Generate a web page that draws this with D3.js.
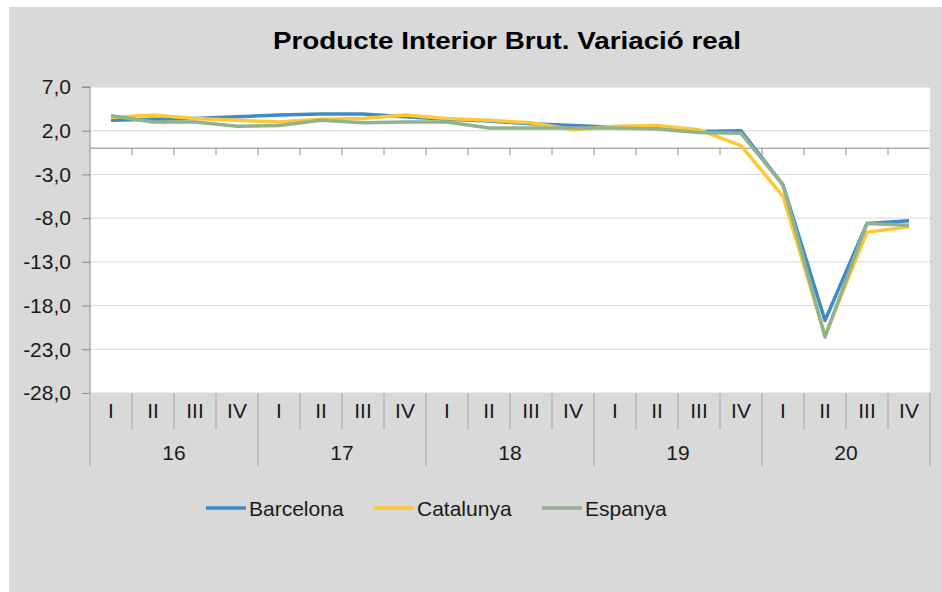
<!DOCTYPE html>
<html>
<head>
<meta charset="utf-8">
<script src="https://cdn.jsdelivr.net/npm/d3@7"></script>
<style>
  body { margin: 0; background: #fff; }
  svg text { font-family: "Liberation Sans", Arial, sans-serif; fill: #1a1a1a; }
</style>
</head>
<body>
<div class="canvas-container"></div>
<script>
const years = ["16", "17", "18", "19", "20"]
const quarters = ["I", "II", "III", "IV"]
const yTicks = [7, 2, -3, -8, -13, -18, -23, -28]

const barcelona = [3.2, 3.3, 3.4, 3.6, 3.8, 3.9, 3.9, 3.6, 3.3, 3.1, 2.8, 2.6, 2.4, 2.3, 1.9, 2.0, -4.2, -19.7, -8.6, -8.3]
const catalunya = [3.5, 3.8, 3.4, 3.2, 3.0, 3.3, 3.4, 3.8, 3.4, 3.2, 2.9, 2.1, 2.5, 2.6, 2.1, 0.3, -5.5, -21.4, -9.6, -9.0]
const espanya = [3.7, 3.0, 3.0, 2.5, 2.6, 3.2, 2.9, 3.0, 3.0, 2.3, 2.3, 2.3, 2.3, 2.2, 1.8, 1.7, -4.2, -21.6, -8.6, -8.8]

const seriesNames = ["Barcelona", "Catalunya", "Espanya"]
const seriesData = [barcelona, catalunya, espanya]
const colors = ["#3f8bc7", "#ffc833", "#91b28d"]

const doPlot = () => {
  const w = 942
  const h = 592
  const left = 90, right = 930, top = 87, bottom = 393

  // one entry per quarter: "16-I", "16-II", ...
  const periods = years.flatMap((y) => quarters.map((q) => `${y}-${q}`))

  const canvas = d3
    .select(".canvas-container")
    .append("svg")
    .attr("width", w)
    .attr("height", h)

  canvas.append("rect")
    .attr("x", 9).attr("y", 7)
    .attr("width", w - 9).attr("height", h - 7)
    .attr("fill", "#d9d9d9")

  const x = d3.scaleBand().domain(periods).range([left, right])
  const xYear = d3.scaleBand().domain(years).range([left, right])
  const y = d3.scaleLinear().domain([-28, 7]).range([bottom, top])
  const cx = (i) => x(periods[i]) + x.bandwidth() / 2

  canvas.append("rect")
    .attr("x", left).attr("y", top)
    .attr("width", right - left).attr("height", bottom - top)
    .attr("fill", "#fff")

  // title
  canvas.append("text")
    .attr("x", 507).attr("y", 49)
    .attr("text-anchor", "middle")
    .attr("font-size", 24)
    .attr("font-weight", "bold")
    .attr("textLength", 468)
    .attr("lengthAdjust", "spacingAndGlyphs")
    .style("fill", "#000")
    .text("Producte Interior Brut. Variació real")

  // gridlines
  canvas.append("g")
    .selectAll("line")
    .data(yTicks)
    .enter()
    .append("line")
    .attr("x1", left).attr("x2", right)
    .attr("y1", (d) => y(d)).attr("y2", (d) => y(d))
    .attr("stroke", "#d9d9d9")
    .attr("stroke-width", 1)

  // y axis, hyphen as minus and comma as decimal mark
  const fmt = (d) => d.toFixed(1).replace(".", ",")
  const yAxis = canvas.append("g")
    .attr("transform", `translate(${left},0)`)
    .call(d3.axisLeft(y).tickValues(yTicks).tickFormat(fmt).tickSize(8).tickPadding(11))
  yAxis.select(".domain").attr("stroke", "#8c8c8c").attr("d", `M-8,${top}H0V${bottom}`)
  yAxis.selectAll(".tick line").attr("stroke", "#8c8c8c")
  yAxis.selectAll(".tick text")
    .attr("font-size", 21)
    .attr("font-family", "Liberation Sans, Arial, sans-serif")
    .style("fill", "#1a1a1a")

  // zero line with small ticks at quarter borders
  const zero = canvas.append("g")
  zero.append("line")
    .attr("x1", left).attr("x2", right)
    .attr("y1", y(0)).attr("y2", y(0))
    .attr("stroke", "#8c8c8c")
  zero.selectAll(".zt")
    .data(periods.slice(1))
    .enter()
    .append("line")
    .attr("x1", (d) => x(d)).attr("x2", (d) => x(d))
    .attr("y1", y(0)).attr("y2", y(0) + 7)
    .attr("stroke", "#8c8c8c")

  // category axis: quarter separators and labels
  const cat = canvas.append("g")
  cat.selectAll(".qsep")
    .data(periods)
    .enter()
    .append("line")
    .attr("x1", (d) => x(d)).attr("x2", (d) => x(d))
    .attr("y1", bottom).attr("y2", (d, i) => (i % 4 === 0 ? 466 : 430))
    .attr("stroke", "#a6a6a6")
  cat.append("line")
    .attr("x1", right).attr("x2", right)
    .attr("y1", bottom).attr("y2", 466)
    .attr("stroke", "#a6a6a6")
  cat.selectAll(".qlab")
    .data(periods)
    .enter()
    .append("text")
    .attr("x", (d, i) => cx(i))
    .attr("y", 418)
    .attr("text-anchor", "middle")
    .attr("font-size", 21)
    .text((d) => d.split("-")[1])
  cat.selectAll(".ylab")
    .data(years)
    .enter()
    .append("text")
    .attr("x", (d) => xYear(d) + xYear.bandwidth() / 2)
    .attr("y", 460)
    .attr("text-anchor", "middle")
    .attr("font-size", 21)
    .text((d) => d)

  // lines
  const line = d3.line()
    .x((d, i) => cx(i))
    .y((d) => y(d))

  canvas.append("g")
    .selectAll("path")
    .data(seriesData)
    .enter()
    .append("path")
    .attr("d", line)
    .attr("fill", "none")
    .attr("stroke", (d, i) => colors[i])
    .attr("stroke-width", 3.5)
    .attr("stroke-linejoin", "round")

  // legend
  const legend = canvas.append("g")
    .selectAll("g")
    .data(seriesNames)
    .enter()
    .append("g")
    .attr("transform", (d, i) => `translate(${206 + i * 168},508)`)
  legend.append("line")
    .attr("x1", 0).attr("x2", 40)
    .attr("stroke", (d, i) => colors[i])
    .attr("stroke-width", 3.5)
  legend.append("text")
    .attr("x", 43).attr("y", 7.5)
    .attr("font-size", 21)
    .text((d) => d)
}
doPlot()
</script>
</body>
</html>
